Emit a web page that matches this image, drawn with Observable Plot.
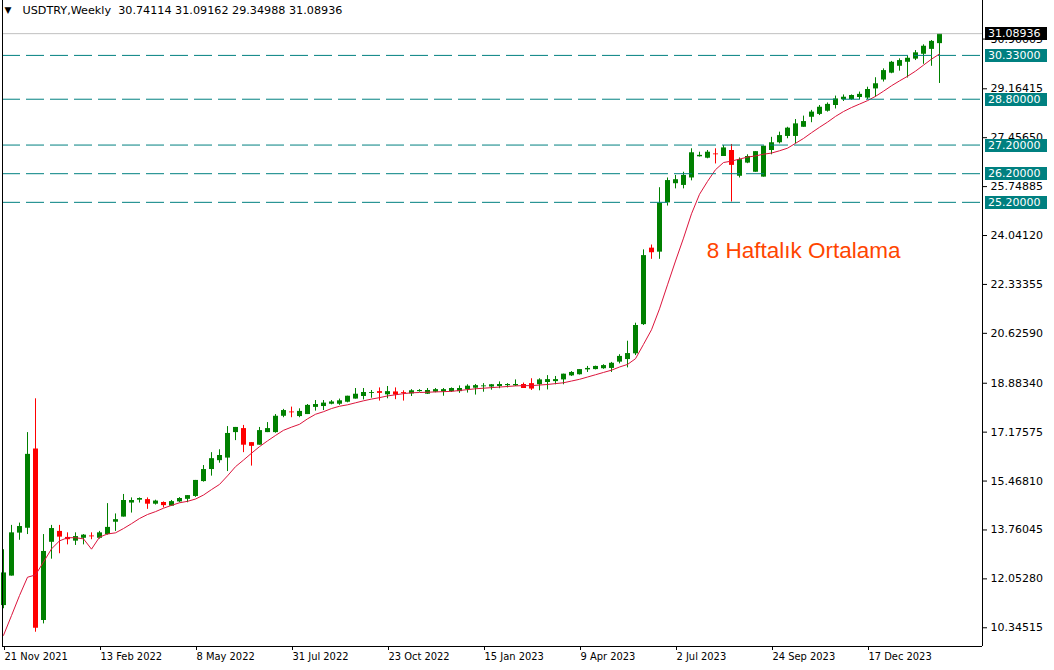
<!DOCTYPE html>
<html>
<head>
<meta charset="utf-8">
<script src="https://cdn.jsdelivr.net/npm/d3@7"></script>
<script src="https://cdn.jsdelivr.net/npm/@observablehq/plot@0.6"></script>
<style>
  html, body { margin: 0; padding: 0; background: #ffffff; }
  #chart svg { display: block; }
</style>
</head>
<body>
<div id="chart"></div>
<script>
// ---- data (weekly USDTRY candles, 21 Nov 2021 .. Feb 2024) ----
const opens = [11.12,12.15,13.65,13.82,16.59,10.60,13.33,13.71,13.50,13.37,
  13.47,13.55,13.47,13.60,14.03,14.21,14.70,14.80,14.82,14.66,
  14.72,14.59,14.74,14.83,14.93,15.45,15.87,16.18,16.27,17.16,
  17.30,16.81,16.72,17.16,17.16,17.73,17.88,17.72,17.79,18.04,
  18.07,18.15,18.15,18.22,18.33,18.42,18.53,18.59,18.48,18.58,
  18.56,18.51,18.59,18.50,18.57,18.58,18.59,18.59,18.66,18.71,
  18.76,18.75,18.77,18.80,18.79,18.84,18.87,18.83,18.91,18.94,
  19.00,19.14,19.18,19.35,19.36,19.39,19.40,19.62,19.71,19.91,
  20.93,23.60,23.46,25.18,25.85,25.79,26.05,26.79,26.74,26.89,
  26.80,27.01,26.11,26.57,26.25,26.08,27.01,27.28,27.50,27.50,
  27.82,28.17,28.27,28.38,28.58,28.78,28.79,28.86,28.84,29.16,
  29.47,29.71,29.95,30.09,30.20,30.37,30.54,30.74114];
const highs = [13.07,13.92,14.00,17.16,18.34,13.60,13.92,13.92,13.66,13.66,
  13.60,13.66,13.71,14.68,14.32,15.00,14.88,14.88,14.88,14.80,
  14.74,14.79,14.89,14.96,15.49,16.01,16.46,16.56,17.37,17.34,
  17.41,16.81,17.34,17.51,17.79,17.97,18.05,17.99,18.14,18.28,
  18.28,18.28,18.33,18.43,18.70,18.70,18.63,18.72,18.77,18.72,
  18.62,18.66,18.66,18.70,18.70,18.70,18.72,18.79,18.83,18.84,
  18.87,18.84,18.93,18.87,19.00,18.89,19.04,19.04,19.15,19.12,
  19.20,19.29,19.36,19.47,19.48,19.53,19.61,19.88,20.35,20.98,
  23.54,23.71,25.71,26.05,26.14,26.25,27.07,26.95,27.01,27.07,
  27.18,27.22,26.75,26.86,26.97,27.16,27.47,27.65,27.82,28.09,
  28.21,28.41,28.58,28.67,28.91,28.95,28.95,29.05,29.22,29.55,
  29.86,30.12,30.21,30.30,30.50,30.70,30.85,31.09162];
const lows = [11.01,12.15,13.40,13.60,10.19,10.48,12.74,12.93,13.24,13.22,
  13.24,13.42,13.44,13.58,13.71,14.21,14.35,14.70,14.48,14.63,
  14.53,14.59,14.71,14.71,14.90,15.43,15.64,16.09,15.80,16.88,
  16.46,15.99,16.72,17.16,17.14,17.68,17.68,17.68,17.79,17.91,
  17.93,18.13,18.11,18.20,18.33,18.30,18.36,18.26,18.34,18.31,
  18.26,18.42,18.57,18.49,18.55,18.43,18.56,18.53,18.54,18.47,
  18.57,18.64,18.69,18.72,18.77,18.70,18.63,18.62,18.65,18.83,
  18.83,19.12,19.17,19.26,19.35,19.37,19.26,19.56,19.42,19.85,
  20.90,23.21,23.21,25.07,25.67,25.67,25.95,26.78,26.72,26.54,
  26.80,25.21,26.05,26.55,26.25,26.08,26.86,27.24,27.42,27.24,
  27.82,27.98,28.23,28.35,28.46,28.72,28.76,28.79,28.79,28.87,
  29.40,29.69,29.78,29.54,30.15,30.02,29.95,29.34988];
const closes = [12.26,13.66,13.88,16.40,10.33,13.01,13.81,13.51,13.42,13.53,
  13.58,13.52,13.66,13.85,14.12,14.79,14.79,14.86,14.66,14.77,
  14.61,14.75,14.86,14.96,15.49,15.87,16.25,16.36,17.13,17.34,
  16.72,16.68,17.23,17.30,17.73,17.93,17.85,17.90,18.11,18.14,
  18.19,18.23,18.27,18.43,18.50,18.56,18.56,18.53,18.59,18.47,
  18.53,18.62,18.63,18.63,18.66,18.66,18.70,18.70,18.78,18.80,
  18.79,18.83,18.84,18.84,18.84,18.70,18.68,19.00,19.01,19.01,
  19.20,19.26,19.36,19.40,19.47,19.50,19.58,19.82,19.92,20.90,
  23.34,23.44,25.17,25.96,25.99,26.14,26.93,26.84,26.95,26.86,
  27.10,26.49,26.69,26.80,26.97,27.16,27.28,27.53,27.79,27.94,
  28.02,28.35,28.52,28.62,28.81,28.87,28.93,28.97,29.14,29.34,
  29.80,30.09,30.15,30.23,30.42,30.65,30.82,31.08936];
// 8-week moving average as drawn on the chart
const ma8 = [10.08,10.77,11.47,12.11,12.19,12.64,13.10,13.38,13.49,13.49,
  13.45,13.09,13.51,13.62,13.66,13.81,13.98,14.16,14.30,14.40,
  14.52,14.62,14.71,14.76,14.84,14.98,15.17,15.35,15.65,15.97,
  16.20,16.44,16.67,16.87,17.06,17.24,17.35,17.45,17.64,17.80,
  17.89,18.00,18.08,18.13,18.20,18.27,18.33,18.38,18.44,18.48,
  18.52,18.55,18.56,18.57,18.58,18.59,18.60,18.63,18.66,18.69,
  18.71,18.73,18.75,18.77,18.79,18.80,18.80,18.82,18.84,18.87,
  18.90,18.96,19.02,19.10,19.18,19.26,19.34,19.45,19.54,19.74,
  20.24,20.75,21.48,22.32,23.15,23.95,24.80,25.48,25.93,26.34,
  26.59,26.64,26.71,26.78,26.82,26.88,26.92,27.00,27.09,27.26,
  27.43,27.63,27.82,28.00,28.20,28.37,28.51,28.63,28.75,28.90,
  29.08,29.27,29.44,29.60,29.78,29.99,30.20,30.38];

const levels = [30.33, 28.80, 27.20, 26.20, 25.20];
const lastPrice = 31.08936;
const headerText = "USDTRY,Weekly\u00a0\u00a030.74114 31.09162 29.34988 31.08936";
const annotationText = "8 Haftalık Ortalama";

const yTickValues = [10.34515, 12.05280, 13.76045, 15.46810, 17.17575, 18.88340,
  20.62590, 22.33355, 24.04120, 25.74885, 27.45650, 29.16415, 30.90005];
const yTickLabels = ["10.34515","12.05280","13.76045","15.46810","17.17575","18.88340",
  "20.62590","22.33355","24.04120","25.74885","27.45650","29.16415","30.90005"];
const xTickIdx = [0, 12, 24, 36, 48, 60, 72, 84, 96, 108];
const xTickLabels = ["21 Nov 2021","13 Feb 2022","8 May 2022","31 Jul 2022","23 Oct 2022",
  "15 Jan 2023","9 Apr 2023","2 Jul 2023","24 Sep 2023","17 Dec 2023"];

// ---- layout / style ----
const W = 1054, H = 670;
const GREEN = "#008000", RED = "#ff0000", TEAL = "#008080", MA = "#dc143c";
const xDomain = [-0.125, 122.375];
const yDomain = [9.6914, 32.247];
const annX = 87.9, annY = 23.52;

const candles = closes.map((c, i) => ({i, open: opens[i], high: highs[i], low: lows[i], close: c, ma: ma8[i]}));
const up = d => d.close >= d.open;
const down = d => d.close < d.open;

const chart = Plot.plot({
  width: W, height: H,
  marginLeft: 2, marginRight: 72, marginTop: 0, marginBottom: 24,
  x: {type: "linear", domain: xDomain},
  y: {type: "linear", domain: yDomain},
  style: {fontFamily: "DejaVu Sans", fontSize: "11px", background: "#ffffff", color: "#000000"},
  marks: [
    Plot.ruleX(candles, {filter: up, x: "i", y1: "low", y2: "high", stroke: GREEN}),
    Plot.ruleX(candles, {filter: down, x: "i", y1: "low", y2: "high", stroke: RED}),
    Plot.ruleX(candles, {filter: up, x: "i", y1: "open", y2: "close", stroke: GREEN, strokeWidth: 5}),
    Plot.ruleX(candles, {filter: down, x: "i", y1: "open", y2: "close", stroke: RED, strokeWidth: 5}),
    Plot.line(candles, {x: "i", y: "ma", stroke: MA, strokeWidth: 1}),
    Plot.ruleY([lastPrice], {stroke: "#c0c0c0"}),
    Plot.ruleY(levels, {stroke: TEAL, strokeDasharray: "18,6"}),
    Plot.text([annotationText], {x: annX, y: annY, text: d => d, textAnchor: "start", lineAnchor: "middle",
      fill: "#ff4500", fontSize: 22.5, fontFamily: "Liberation Sans"}),
    Plot.text(["\u25BC"], {frameAnchor: "top-left", text: d => d, dx: 2, dy: 10, textAnchor: "start",
      lineAnchor: "middle", fontSize: 9, fill: "#000000"}),
    Plot.text([headerText], {frameAnchor: "top-left", text: d => d, dx: 20, dy: 10, textAnchor: "start",
      lineAnchor: "middle", fontSize: 11.2, fill: "#000000"}),
    Plot.axisY(yTickValues, {anchor: "right", tickSize: 4, tickPadding: 4, label: null,
      tickFormat: d => yTickLabels[yTickValues.indexOf(d)], fontSize: 11, fontFamily: "DejaVu Sans"}),
    Plot.axisX(xTickIdx, {anchor: "bottom", tickSize: 4, tickPadding: 2, label: null, textAnchor: "start",
      lineAnchor: "top", dx: 1, tickFormat: d => xTickLabels[xTickIdx.indexOf(d)],
      fontSize: 11, fontFamily: "DejaVu Sans Condensed, DejaVu Sans", fontStretch: "condensed"}),
    Plot.ruleX([xDomain[0], xDomain[1]], {stroke: "#000000"}),
    Plot.ruleY([yDomain[0]], {stroke: "#000000"})
  ]
});

document.getElementById("chart").appendChild(chart);

// price label boxes on the right scale, positioned through Plot's y scale
const yScale = chart.scale("y");
const svg = d3.select(chart);
const g = svg.append("g").attr("text-anchor", "start");
function priceBox(v, fill, label) {
  const yy = Math.round(yScale.apply(v));
  g.append("rect").attr("x", 985).attr("y", yy - 6).attr("width", 62).attr("height", 13).attr("fill", fill);
  g.append("text").attr("x", 988).attr("y", yy + 0.5).attr("dy", "0.35em").attr("text-anchor", "start")
    .attr("fill", "#ffffff").attr("font-family", "DejaVu Sans").attr("font-size", 11).text(label);
}
levels.forEach(v => priceBox(v, TEAL, v.toFixed(5)));
priceBox(lastPrice, "#000000", lastPrice.toFixed(5));
</script>
</body>
</html>
